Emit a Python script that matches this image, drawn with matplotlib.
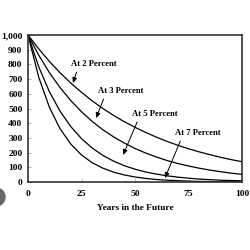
import matplotlib
matplotlib.use("Agg")
import matplotlib.pyplot as plt
from matplotlib.patches import Circle
from matplotlib.ticker import FuncFormatter

# значения (каждые 5 лет)
years = [0, 5, 10, 15, 20, 25, 30, 35, 40, 45, 50, 55, 60, 65, 70, 75, 80, 85, 90, 95, 100]
at_2 = [1000, 906, 820, 743, 673, 610, 552, 500, 453, 410, 372, 337, 305, 276, 250, 226, 205, 186, 168, 152, 138]
at_3 = [1000, 863, 744, 642, 554, 478, 412, 355, 307, 265, 228, 197, 170, 146, 126, 109, 94, 81, 70, 60, 52]
at_5 = [1000, 784, 614, 481, 377, 295, 231, 181, 142, 111, 87, 68, 54, 42, 33, 26, 20, 16, 12, 10, 8]
at_7 = [1000, 713, 508, 362, 258, 184, 131, 94, 67, 48, 34, 24, 17, 12, 9, 6, 4, 3, 2, 2, 1]

labels = ["At 2 Percent", "At 3 Percent", "At 5 Percent", "At 7 Percent"]
label_pos = [(30.8, 803), (43.5, 619), (59.3, 463), (79.4, 333)]
arrow_tip = [(21, 673), (31.8, 435), (44.4, 184), (64, 27)]

x_ticks = [0, 25, 50, 75, 100]
y_ticks = [0, 100, 200, 300, 400, 500, 600, 700, 800, 900, 1000]

plt.rcParams['font.family'] = ['Liberation Serif', 'DejaVu Serif']
plt.rcParams['font.weight'] = 'bold'

fig = plt.figure(figsize=(2.5, 2.5), dpi=100)
ax = fig.add_axes([0.112, 0.272, 0.856, 0.588])

for series in (at_2, at_3, at_5, at_7):
    ax.plot(years, series, color='black', linewidth=0.9)

for text, pos, tip in zip(labels, label_pos, arrow_tip):
    ax.annotate(text, xy=tip, xytext=pos, ha='center', va='center',
                fontsize=6.2, fontweight='bold',
                arrowprops=dict(arrowstyle='-|>,head_length=0.5,head_width=0.22',
                                color='black', linewidth=0.7, relpos=(0.15, 0),
                                shrinkA=1, shrinkB=0))

ax.set_xlim(0, 100)
ax.set_ylim(0, 1000)
ax.set_xticks(x_ticks)
ax.set_yticks(y_ticks)
ax.yaxis.set_major_formatter(FuncFormatter(lambda v, p: f"{int(v):,}"))
ax.tick_params(direction='in', length=2, width=0.5, color='#888888',
               labelsize=6.8, pad=4)
ax.tick_params(axis='x', pad=6)
for lab in ax.get_xticklabels() + ax.get_yticklabels():
    lab.set_fontweight('bold')
for sp in ax.spines.values():
    sp.set_linewidth(1.2)
    sp.set_color('#333333')

ax.set_xlabel("Years in the Future", fontsize=6.7, fontweight='bold', labelpad=4)

fig.patches.append(Circle((-0.016, 1 - 197 / 250), 0.036, transform=fig.transFigure,
                          color='#666666', zorder=0))

fig.savefig("out.png", dpi=100, facecolor='white')
